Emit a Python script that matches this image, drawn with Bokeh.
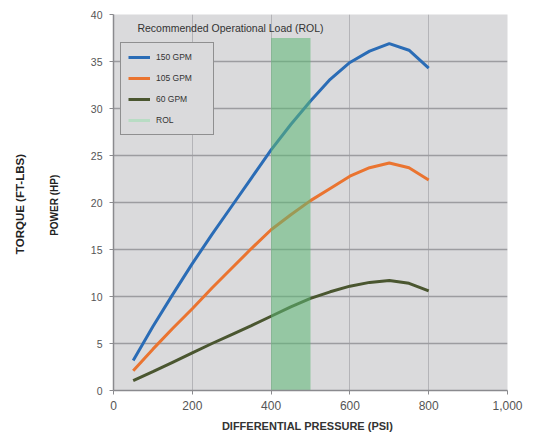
from bokeh.plotting import figure
from bokeh.models import (Label, Legend, LegendItem, NumeralTickFormatter, FixedTicker,
                          Range1d, LinearAxis)
from bokeh.embed import file_html
from bokeh.resources import INLINE

pressure = [50, 100, 150, 200, 250, 300, 350, 400, 450, 500, 550, 600, 650, 700, 750, 800]
gpm150 = [3.2, 6.8, 10.2, 13.5, 16.6, 19.6, 22.6, 25.6, 28.3, 30.8, 33.1, 34.9, 36.1, 36.9, 36.2, 34.3]
gpm105 = [2.1, 4.4, 6.6, 8.7, 10.9, 13.0, 15.1, 17.1, 18.7, 20.2, 21.5, 22.8, 23.7, 24.2, 23.7, 22.4]
gpm60 = [1.05, 2.0, 3.0, 4.0, 5.0, 5.95, 6.9, 7.9, 8.9, 9.8, 10.5, 11.1, 11.5, 11.7, 11.4, 10.6]
rol_range = [400, 500]
rol_top = 37.5
x_ticks = [0, 200, 400, 600, 800, 1000]
y_ticks = [0, 5, 10, 15, 20, 25, 30, 35, 40]

W, H = 534, 436
p = figure(width=W, height=H, output_backend="svg", toolbar_location=None,
           x_range=Range1d(0, 1000), y_range=Range1d(0, 40),
           min_border_left=113, min_border_right=27, min_border_top=14, min_border_bottom=46)
p.background_fill_color = "#dadadc"
p.border_fill_color = "white"
p.outline_line_color = None

p.xgrid.ticker = FixedTicker(ticks=x_ticks)
p.ygrid.ticker = FixedTicker(ticks=y_ticks)
p.xgrid.grid_line_color = "#b4b4b8"
p.ygrid.grid_line_color = "#9c9ca0"
p.ygrid.grid_line_width = 1.5

p.xaxis.ticker = FixedTicker(ticks=x_ticks)
p.yaxis.ticker = FixedTicker(ticks=y_ticks)
p.xaxis.formatter = NumeralTickFormatter(format="0,0")
for ax in (p.xaxis, p.yaxis):
    ax.axis_line_color = "#8a8a8e"
    ax.axis_line_width = 1.5
    ax.major_tick_line_color = "#8a8a8e"
    ax.major_tick_out = 4
    ax.major_tick_in = 0
    ax.minor_tick_line_color = None
    ax.major_label_text_font = "Liberation Sans"
    ax.major_label_text_color = "#555555"
p.xaxis.major_label_text_font_size = "12px"
p.yaxis.major_label_text_font_size = "10.5px"
p.yaxis.major_label_standoff = 7
p.xaxis.major_label_standoff = 6

p.xaxis.axis_label = "DIFFERENTIAL  PRESSURE  (PSI)"
p.xaxis.axis_label_text_font = "Liberation Sans"
p.xaxis.axis_label_text_font_size = "11px"
p.xaxis.axis_label_text_font_style = "bold"
p.xaxis.axis_label_text_color = "#333333"
p.xaxis.axis_label_standoff = 7


def title_axis(text, size, standoff):
    ax = LinearAxis(ticker=FixedTicker(ticks=[]), axis_label=text)
    ax.axis_line_color = None
    ax.major_tick_out = 0
    ax.major_tick_in = 0
    ax.minor_tick_out = 0
    ax.minor_tick_in = 0
    ax.major_label_standoff = 0
    ax.major_label_text_font_size = "0px"
    ax.axis_label_standoff = standoff
    ax.axis_label_text_font = "Liberation Sans"
    ax.axis_label_text_font_size = size
    ax.axis_label_text_font_style = "bold"
    ax.axis_label_text_color = "#222222"
    return ax


p.add_layout(title_axis("POWER   (HP)", "10px", 28), "left")
p.add_layout(title_axis("TORQUE  (FT-LBS)", "11.5px", 20), "left")

r150 = p.line(pressure, gpm150, line_color="#2a6cb6", line_width=3)
r105 = p.line(pressure, gpm105, line_color="#ea7430", line_width=3)
r60 = p.line(pressure, gpm60, line_color="#4a5630", line_width=3)
p.quad(left=[rol_range[0]], right=[rol_range[1]], bottom=[0], top=[rol_top],
       fill_color="#5cb874", fill_alpha=0.55, line_color=None)
rrol = p.line(rol_range, [float("nan"), float("nan")], line_color="#b8dcc4", line_width=3)

legend = Legend(items=[LegendItem(label="150 GPM", renderers=[r150]),
                       LegendItem(label="105 GPM", renderers=[r105]),
                       LegendItem(label="60 GPM", renderers=[r60]),
                       LegendItem(label="ROL", renderers=[rrol])],
                location=(7, 255))
legend.background_fill_color = "#dadadc"
legend.background_fill_alpha = 1
legend.border_line_color = "#444444"
legend.border_line_width = 1.5
legend.label_text_font = "Liberation Sans"
legend.label_text_font_size = "8.5px"
legend.label_text_color = "#333333"
legend.glyph_width = 22
legend.glyph_height = 14
legend.label_height = 14
legend.label_width = 50
legend.label_standoff = 6
legend.spacing = 7
legend.padding = 7
legend.margin = 0
p.add_layout(legend)

p.add_layout(Label(x=297, y=38.6, text="Recommended Operational Load (ROL)",
                   text_align="center", text_baseline="middle",
                   text_font="Liberation Sans", text_font_size="10.5px", text_color="#333333"))

open("out.html", "w").write(file_html(p, INLINE))
